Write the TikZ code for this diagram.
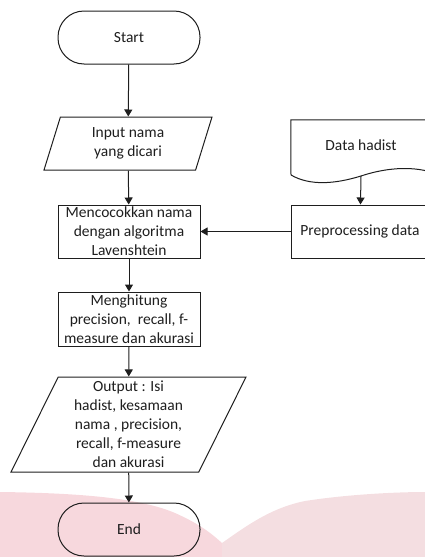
\documentclass[tikz,border=0pt]{standalone}
\usepackage{fontspec}
\setmainfont{Carlito}
\usepackage{xcolor}
\usepackage{tikz}
\usetikzlibrary{arrows.meta, positioning, shapes.geometric}

\definecolor{wmleft}{RGB}{247,216,221}
\definecolor{wmright}{RGB}{244,222,225}
\definecolor{ink}{RGB}{30,30,30}

\begin{document}
\begin{tikzpicture}[
    x=1pt, y=-1pt,
    every node/.style={font=\fontsize{15.5}{19}\selectfont, text=ink},
    term/.style={draw=ink, line width=1pt, rectangle, rounded corners=26pt, minimum width=142pt, minimum height=53pt},
    proc/.style={draw=ink, line width=1pt, rectangle, minimum width=142pt, minimum height=53pt, align=center, inner sep=1pt},
    io/.style={draw=ink, line width=1pt, trapezium, trapezium stretches body, align=center, inner sep=1pt},
    docbox/.style={rectangle, minimum width=140pt, minimum height=50pt},
    arrow/.style={draw=ink, line width=1pt, -{Triangle[width=8pt, length=7pt]}}
]

    \useasboundingbox (0,0) rectangle (425,557);
    \clip (0,0) rectangle (425,557);

    % Watermark
    \fill[wmleft] (0,492) .. controls (80,493) and (140,498) .. (175,513) .. controls (200,524) and (212,534) .. (222,543) -- (222,557) -- (0,557) -- cycle;
    \fill[wmright] (222,543) .. controls (245,527) and (270,508) .. (305,501) .. controls (350,494) and (400,492) .. (425,492) -- (425,557) -- (222,557) -- cycle;

    % Left column
    \node[term] (start) at (129,37.5) {Start};
    \node[io, trapezium left angle=64, trapezium right angle=116, minimum width=168pt, minimum height=53pt] (input) at (128,143.5) {Input nama\\yang dicari};
    \node[proc] (match) at (129,231.5) {Mencocokkan nama\\dengan algoritma\\Lavenshtein};
    \node[proc, minimum height=54pt] (compute) at (129,319) {Menghitung\\precision,\ \ recall, f-\\measure dan akurasi};
    \node[io, trapezium left angle=62, trapezium right angle=118, minimum width=235pt, minimum height=95pt] (output) at (128.5,424.5) {Output : Isi\\hadist, kesamaan\\nama , precision,\\recall, f-measure\\dan akurasi};
    \node[term] (finish) at (129,529.5) {End};

    % Right column
    \node[docbox] (data) at (361,145) {Data hadist};
    \draw[draw=ink, line width=1pt] (291,175) -- (data.north west) -- (data.north east) -- (431,172);
    \draw[draw=ink, line width=1pt] (291,175) .. controls (310,186) and (335,184) .. (361,176) .. controls (385,168) and (410,166) .. (431,172);
    \node[proc, minimum width=138pt] (prep) at (360,231.5) {Preprocessing data};

    % Connectors
    \draw[arrow] (start) -- (input);
    \draw[arrow] (input) -- (match);
    \draw[arrow] (match) -- (compute);
    \draw[arrow] (compute) -- (output);
    \draw[arrow] (output) -- (finish);
    \draw[arrow] ([yshift=-6pt]data.south) -- (prep);
    \draw[arrow] (prep) -- (match);

\end{tikzpicture}
\end{document}
